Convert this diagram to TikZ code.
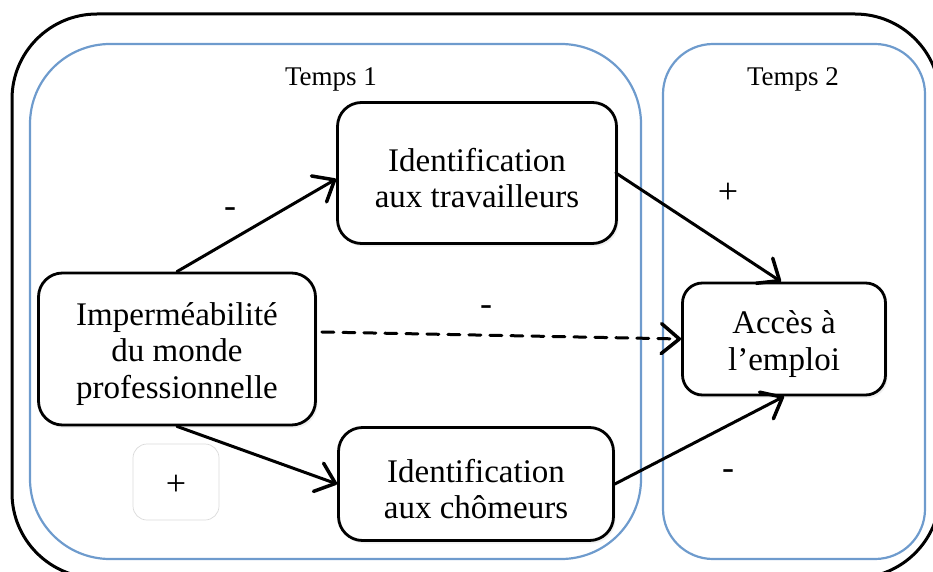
\documentclass[tikz,border=0pt]{standalone}
\usepackage{fontspec}
\setmainfont{Liberation Serif}
\usetikzlibrary{arrows.meta,shadows}
\begin{document}
\begin{tikzpicture}[x=1pt,y=-1pt,
  box/.style={draw, line width=2.8pt, rounded corners=24pt, inner sep=0pt, fill=white,
    drop shadow={opacity=0.12, shadow xshift=2pt, shadow yshift=-3pt}},
  boxtext/.style={align=center, font=\fontsize{33}{36.5}\selectfont, inner sep=0pt, yshift=-5pt},
  group/.style={draw={rgb,255:red,110;green,155;blue,205}, line width=2.2pt},
  outerframe/.style={draw=black, line width=3pt, rounded corners=85pt},
  lbl/.style={font=\fontsize{36}{38}\selectfont, inner sep=0pt},
  tlbl/.style={font=\fontsize{27}{30}\selectfont, inner sep=0pt},
  arr/.style={line width=3pt, line cap=round, -{Straight Barb[length=18pt,width=30pt,line width=3.5pt,round]}},
  faint/.style={draw={rgb,255:red,218;green,218;blue,218}, line width=0.7pt, rounded corners=14pt}
]
\useasboundingbox (0,0) rectangle (933,572);
% outer frame
\draw[outerframe] (12,14) rectangle (940,578);
% time groups
\draw[group, rounded corners=80pt] (30,44) rectangle (641,559);
\draw[group, rounded corners=50pt] (663,44) rectangle (925,559);
\node[tlbl] (t1) at (331,79) {Temps 1};
\node[tlbl] (t2) at (793,79) {Temps 2};
% faint box
\draw[faint] (133,444) rectangle (219,520);
\node[lbl] (pfaint) at (176,485) {+};
% nodes
\node[box, minimum width=277pt, minimum height=152pt,
  label={[boxtext]center:Imperméabilité\\du monde\\professionnelle}] (imp) at (177,349) {};
\node[box, minimum width=279pt, minimum height=141pt,
  label={[boxtext]center:Identification\\aux travailleurs}] (trav) at (477,173) {};
\node[box, minimum width=275pt, minimum height=113pt,
  label={[boxtext]center:Identification\\aux chômeurs}] (chom) at (476,484) {};
\node[box, rounded corners=20pt, minimum width=203pt, minimum height=112pt,
  label={[boxtext]center:Accès à\\l’emploi}] (acc) at (784,339) {};
% connectors
\draw[arr] (imp.north) -- ([yshift=-6pt]trav.west);
\draw[arr] (imp.south) -- (chom.west);
\draw[arr, dash pattern=on 12pt off 9pt] ([xshift=5pt,yshift=17pt]imp.east) -- (acc.west);
\draw[arr] ([xshift=-2pt]trav.east) -- ([xshift=-3pt]acc.north);
\draw[arr] (chom.east) -- (acc.south);
% signs
\node[lbl] (s1) at (230,213) {-};
\node[lbl] (s2) at (728,193) {+};
\node[lbl] (s3) at (486,311) {-};
\node[lbl] (s4) at (728,475) {-};
\end{tikzpicture}
\end{document}
